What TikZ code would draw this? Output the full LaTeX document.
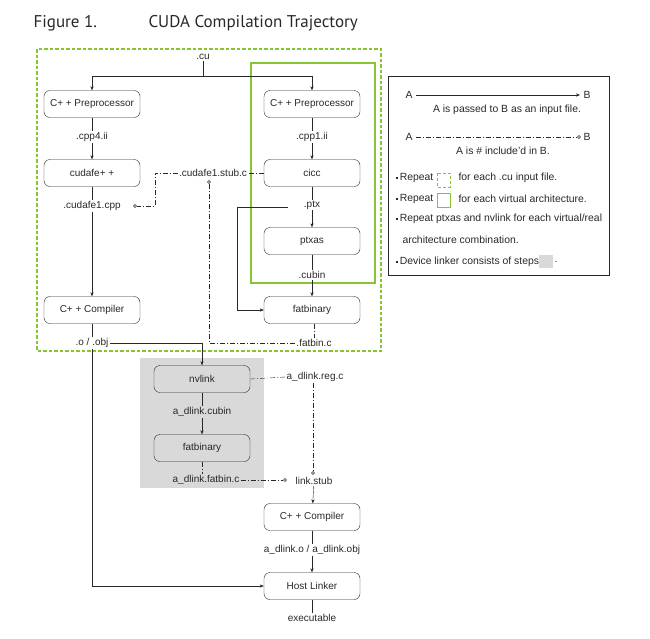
\documentclass[tikz,border=0pt]{standalone}
\usepackage{fontspec}
\setmainfont{Liberation Sans}
\newfontfamily\titlefont{PT Sans}
\usetikzlibrary{arrows.meta}
\definecolor{nvgreen}{RGB}{136,196,50}
\definecolor{txtgray}{RGB}{40,40,40}
\definecolor{linkgray}{RGB}{217,217,217}
\newcommand{\bul}{\rule[1.5pt]{2.5pt}{2.5pt}}
\begin{document}
\begin{tikzpicture}[x=1pt,y=-1pt,color=txtgray,
  font=\fontsize{10}{12}\selectfont,
  tool/.style={draw,rounded corners=6pt,minimum width=96pt,minimum height=27pt,inner sep=0pt},
  file/.style={inner sep=1pt},
  pass/.style={-{Stealth[length=4pt,width=3.2pt]}},
  incl/.style={dash pattern=on 5pt off 2pt on 1pt off 2pt},
  dot/.style={circle,draw,fill=white,inner sep=0pt,minimum size=3pt},
  legend/.style={font=\fontsize{10.4}{12}\selectfont}]
\useasboundingbox (0,0) rectangle (650,638);
% title
\node[anchor=base west,font=\titlefont\fontsize{17}{20}\selectfont] (fig) at (30,27) {Figure 1.};
\node[anchor=base west,font=\titlefont\fontsize{17}{20}\selectfont] (ttl) at (145,27) {CUDA Compilation Trajectory};
% repeat boxes
\draw[draw=nvgreen,dash pattern=on 3.5pt off 2pt,line width=1.2pt] (37,49) rectangle (381,351);
\draw[draw=nvgreen,line width=1.2pt] (251,63) rectangle (375,283);
\fill[linkgray] (140,358) rectangle (264,488);
% host side
\node[file] (cu) at (203,57) {.cu};
\coordinate (split) at (203,76);
\node[tool] (pre4) at (92,104) {C+ + Preprocessor};
\node[file] (cpp4) at (92,137) {.cpp4.ii};
\node[tool] (cudafe) at (92,173) {cudafe+ +};
\node[file] (cudafecpp) at (92,206) {.cudafe1.cpp};
\node[tool] (cxx) at (92,310) {C+ + Compiler};
\node[file] (obj) at (92,343) {.o / .obj};
% device side
\node[tool] (pre1) at (312,104) {C+ + Preprocessor};
\node[file] (cpp1) at (312,137) {.cpp1.ii};
\node[tool] (cicc) at (312,173) {cicc};
\node[file] (ptx) at (312,205) {.ptx};
\coordinate (ptxtap) at (288,207);
\coordinate (ptxturn) at (237,207);
\node[tool] (ptxas) at (312,241) {ptxas};
\node[file] (cubin) at (312,275) {.cubin};
\node[tool] (fatbin) at (312,310) {fatbinary};
\node[file] (fatbinc) at (314,343) {.fatbin.c};
\node[file] (stubc) at (213,173) {.cudafe1.stub.c};
\node[dot] (cppdot) at (135,206) {};
\node[dot] (stubdot) at (209,182) {};
\coordinate (stubturn) at (155,173);
% device linker
\node[tool] (nvlink) at (202,379) {nvlink};
\node[file] (dcubin) at (202,412) {a\_dlink.cubin};
\node[tool] (dfatbin) at (202,448) {fatbinary};
\node[file] (dfatbinc) at (206,480) {a\_dlink.fatbin.c};
\node[file] (regc) at (315,377) {a\_dlink.reg.c};
\node[dot] (fatcdot) at (285,480) {};
\node[dot] (stubtop) at (313,473) {};
\node[file] (stub) at (314,481) {link.stub};
\node[tool] (dcxx) at (312,517) {C+ + Compiler};
\node[file] (dobj) at (312,550) {a\_dlink.o / a\_dlink.obj};
\node[tool] (hlink) at (312,586) {Host Linker};
\node[file] (exe) at (312,618) {executable};
% input files
\draw (cu) -- (split);
\draw[pass] (split) -| (pre4.north);
\draw[pass] (split) -| (pre1.north);
\draw (pre4) -- (cpp4);
\draw[pass] (cpp4) -- (cudafe);
\draw (cudafe) -- (cudafecpp);
\draw[pass] (cudafecpp) -- (cxx);
\draw (cxx) -- (obj);
\draw (pre1) -- (cpp1);
\draw[pass] (cpp1) -- (cicc);
\draw (cicc) -- (ptx);
\draw[pass] (ptx) -- (ptxas);
\draw (ptxas) -- (cubin);
\draw[pass] (cubin) -- (fatbin);
\draw[pass] (ptxtap) -- (ptxturn) |- (fatbin.west);
\draw[pass] (obj.east) -| (nvlink.north);
\draw[pass] (obj) |- (hlink.west);
\draw (nvlink) -- (dcubin);
\draw[pass] (dcubin) -- (dfatbin);
\draw[pass] (stub) -- (dcxx);
\draw (dcxx) -- (dobj);
\draw[pass] (dobj) -- (hlink);
\draw (hlink) -- (exe);
% includes
\draw[incl] (cicc.west) -- (stubc.east);
\draw[incl] (stubc.west) -- (stubturn) |- (cppdot);
\draw[incl] (fatbin.south -| fatbinc) -- (fatbinc);
\draw[incl] (fatbinc.west) -| (stubdot);
\draw[incl] (nvlink.east) -- (regc.west);
\draw[incl] (stubtop |- regc.south) -- (stubtop);
\draw[incl] (dfatbin) -- (dfatbin |- dfatbinc.north);
\draw[incl] (dfatbinc.east) -- (fatcdot);
% legend
\draw[line width=0.8pt] (388,76) rectangle (609,275);
\begin{scope}[legend]
\node (la) at (409,95) {A};
\node (lb) at (587,95) {B};
\draw[pass] (la) -- (lb);
\node (lpass) at (507,110) {A is passed to B as an input file.};
\node (la2) at (409,137) {A};
\node[dot] (ldot) at (579,137) {};
\node (lb2) at (587,137) {B};
\draw[incl] (la2) -- (ldot);
\node (lincl) at (503,151) {A is \# include'd in B.};
\node[anchor=west] (rep1) at (392,178) {\bul\,Repeat};
\draw[draw=nvgreen,dash pattern=on 3pt off 2pt,line width=1pt] (437,173) rectangle (450,187);
\node[anchor=west] (rep1b) at (455,178) {for each .cu input file.};
\node[anchor=west] (rep2) at (392,199) {\bul\,Repeat};
\draw[draw=nvgreen,line width=1pt] (437,193) rectangle (450,207);
\node[anchor=west] (rep2b) at (455,199) {for each virtual architecture.};
\node[anchor=west] (rep3) at (392,219) {\bul\,Repeat ptxas and nvlink for each virtual/real};
\node[anchor=west] (rep3b) at (399,240) {architecture combination.};
\node[anchor=west] (rep4) at (392,262) {\bul\,Device linker consists of steps};
\fill[linkgray] (539,255) rectangle (553,268);
\node[anchor=west] (rep4b) at (551,262) {.};
\end{scope}
\end{tikzpicture}
\end{document}
